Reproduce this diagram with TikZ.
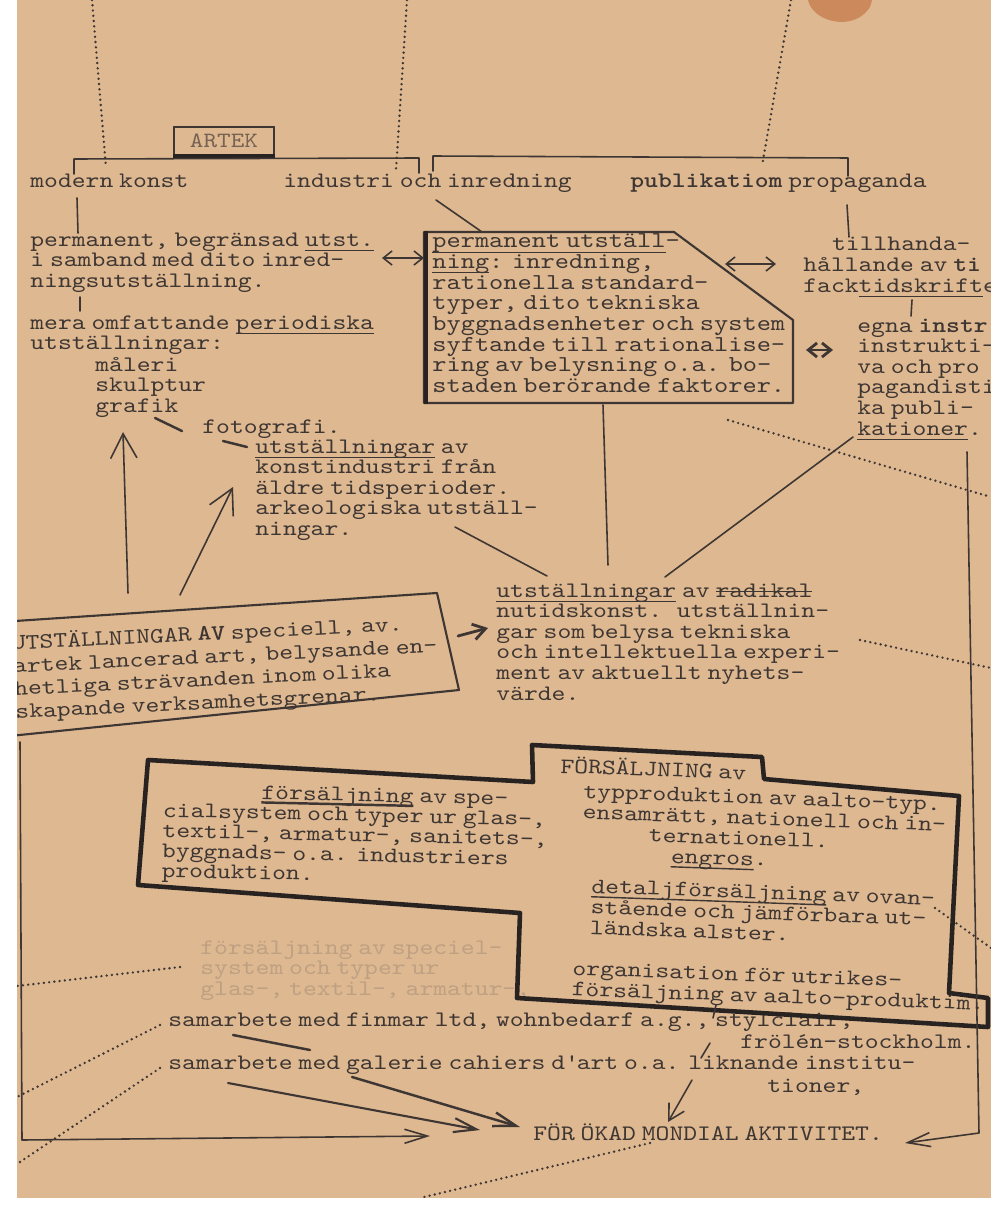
\documentclass[tikz,border=0pt]{standalone}
\usepackage{fontspec}
\setmonofont[FakeStretch=1.19, BoldFont=lmmonolt10-bold.otf]{lmmono10-regular.otf}
\usetikzlibrary{arrows.meta}
\definecolor{paper}{RGB}{222,184,145}
\definecolor{stain}{RGB}{204,138,92}
\definecolor{ink}{RGB}{62,54,50}
\definecolor{heavyink}{RGB}{40,35,33}
\definecolor{faint}{RGB}{190,160,130}
\setlength{\lineskiplimit}{-100pt}
\def\twsize{12.6}
\def\twlead{11.75}
\newcommand\tw{\fontsize{\twsize}{\twlead}\selectfont}
\newcommand\ul[2][0.5pt]{\leavevmode\setbox0\hbox{#2}\rlap{\rule[-0.2em]{\wd0}{#1}}\box0\relax}
\newcommand\strike[1]{\leavevmode\setbox0\hbox{#1}\rlap{\rule[0.22em]{\wd0}{0.8pt}}\box0\relax}
\tikzset{
  typed/.style={anchor=base west, inner sep=0pt, text width=16cm, align=left,
    text=ink, font=\ttfamily, execute at begin node=\tw},
  tsize/.code={\def\twsize{#1}},
  tlead/.code={\def\twlead{#1}},
  pen/.style={draw=ink, line width=0.9pt, line cap=round, line join=round},
  heavy/.style={draw=heavyink, line width=2.6pt, line join=round},
  dots/.style={draw=ink, line width=1.5pt, line cap=round, dash pattern=on 0pt off 3pt},
  upbarb/.style={-{Straight Barb[length=14pt,width=15pt]}},
  longbarb/.style={-{Straight Barb[length=13pt,width=8pt]}},
  twobarb/.style={{Straight Barb[length=5pt,width=8pt]}-{Straight Barb[length=5pt,width=8pt]}},
}

\begin{document}
\begin{tikzpicture}[x=0.02cm, y=-0.02cm]
  \useasboundingbox (0,0) rectangle (996,1213);
  \fill[white] (0,0) rectangle (996,1213);
  \fill[paper] (17,0) rectangle (991,1198);
  \fill[stain] (808,0) .. controls (812,20) and (846,30) .. (864,14) .. controls (870,8) .. (872,0) -- cycle;

  % dotted lines of the sheet below
  \foreach \ax/\ay/\bx/\by in {92/0/106/168, 407/0/396/170, 791/0/762/166,
      728/420/991/497, 860/640/991/668, 935/908/991/948,
      180/967/17/986, 160/1025/17/1097, 160/1068/17/1164, 650/1143/420/1198}
    \draw[dots] (\ax,\ay) -- (\bx,\by);

  \node[draw=ink, line width=0.9pt, minimum width=2cm, minimum height=0.56cm, inner sep=0pt,
    text=ink!65!paper, font=\ttfamily\fontsize{12.4}{12}\selectfont] (artek) at (224,141) {ARTEK};
  \node[typed] (modern) at (30,188) {modern konst};
  \node[typed] (industri) at (283,188) {industri och inredning};
  \node[typed] (publik) at (630,188) {\textbf{publikatiom} propaganda};
  \node[typed] (begr) at (30,246) {permanent, begränsad \ul{utst.}\\i samband med dito inred-\\ningsutställning.};
  \node[typed] (mera) at (30,329) {mera omfattande \ul{periodiska}\\utställningar:};
  \node[typed] (maleri) at (95,371) {måleri\\skulptur\\grafik};
  \node[typed] (foto) at (202,433) {fotografi.};
  \node[typed] (konstind) at (255,453) {\ul{utställningar} av\\konstindustri från\\äldre tidsperioder.\\arkeologiska utställ-\\ningar.};
  \node[typed, tsize=12.95] (inred) at (432,248) {\ul{permanent utställ}-\\\ul{ning}: inredning,\\rationella standard-\\typer, dito tekniska\\byggnadsenheter och system\\syftande till rationalise-\\ring av belysning o.a. bo-\\staden berörande faktorer.};
  \node[typed] (tillh) at (803,251) {\hspace*{1.3em}tillhanda-\\hållande av \textbf{ti}\\fack\ul{tidskrift}e};
  \node[typed] (egna) at (857,332) {egna \textbf{instr}\\instrukti-\\va och pro\\pagandisti\\ka publi-\\\ul{kationer}.};
  \node[typed] (radikal) at (496,597) {\ul{utställningar} av \strike{radikal}\\nutidskonst.~ utställnin-\\gar som belysa tekniska\\och intellektuella experi-\\ment av aktuellt nyhets-\\värde.};
  \node[typed, tlead=13, rotate=2.8] (special) at (12,650) {UTSTÄLLNINGAR \textbf{AV} speciell, av.\\artek lancerad art, belysande en-\\hetliga strävanden inom olika\\skapande verksamhetsgrenar.};

  \node[typed, tlead=11.4, rotate=-1.3] (salj) at (163,797) {\hspace*{4.43em}\ul[1.4pt]{försäljning} av spe-\\cialsystem och typer ur glas-,\\textil-, armatur-, sanitets-,\\byggnads- o.a. industriers\\produktion.};
  \node[typed, rotate=-2] (typsalj) at (560,773) {FÖRSÄLJNING av};
  \node[typed, rotate=-2] (typprod) at (583,798) {typproduktion av aalto-typ.\\ensamrätt, nationell och in-\\\hspace*{3.02em}ternationell.\\\hspace*{4.05em}\ul[0.8pt]{engros}.};
  \node[typed, rotate=-2] (detalj) at (591,893) {\ul[0.8pt]{detaljförsäljning} av ovan-\\stående och jämförbara ut-\\ländska alster.};
  \node[typed, rotate=-2] (utrikes) at (572,975) {organisation för utrikes-\\försäljning av aalto-produktim.};
  \node[typed, text=faint] (faded) at (200,954) {försäljning av speciel-\\system och typer ur\\glas-, textil-, armatur-,};

  \node[typed] (finmar) at (168,1026) {samarbete med finmar ltd, wohnbedarf a.g., stylclair,};
  \node[typed] (frolen) at (740,1048) {frölén-stockholm.};
  \node[typed] (galerie) at (168,1069) {samarbete med galerie cahiers d\textquotesingle art o.a. liknande institu-};
  \node[typed] (tioner) at (767,1092) {tioner,};
  \node[typed] (mondial) at (533,1140) {FÖR ÖKAD MONDIAL AKTIVITET.};

  % frames
  \draw[heavy] (artek.south west) -- (artek.south east);
  \draw[pen] (74,174) -- (74,159) -- (419,158) -- (419,173);
  \draw[pen] (433,171) -- (433,156) -- (848,158) -- (848,176);
  \draw[pen, line width=1.2pt] (424,232) -- (674,232) -- (793,320) -- (793,403) -- (424,403) -- cycle;
  \draw[heavy] (426,231) -- (426,404);
  \draw[pen, line width=1.2pt] (0,622) -- (437,593) -- (459,690) -- (0,737);
  \draw[heavy] (148,760) -- (533,782) -- (532,745) -- (762,757) -- (764,779) -- (959,796) -- (949,993)
    -- (988,998) -- (988,1027) -- (517,998) -- (520,913) -- (138,885) -- cycle;

  \foreach \n/\x/\y in {mk1/77/198, mk2/78/233, pb1/80/297, pb2/80/311,
      gf1/155/418, gf2/182/431, ft1/223/441, ft2/247/447,
      up1a/128/593, up1b/123/432, up2a/180/595, up2b/233/487,
      in1/436/200, in2/482/232, da1/382/258, da2/424/258,
      db1/725/264, db2/776/264, dc1/806/350, dc2/833/350,
      pp1/847/205, pp2/849/237, fk1/912/300, fk2/911/316,
      ak1/455/527, ak2/547/576, bx1/603/405, bx2/608/565,
      kt1/853/437, kt2/665/577, sp1/458/636, sp2/488/628,
      rr1/967/452, rr2/979/1133, rr3/905/1143,
      ll1/20/742, ll2/22/1140, ll3/430/1136,
      sa1/233/1035, sa2/310/1050, sb1/228/1083, sb2/480/1130,
      sc1/352/1077, sc2/520/1127,
      at1/716/1005, at2/713/1018, at3/710/1043, at4/701/1058, at5/692/1080, at6/668/1122}
    \coordinate (\n) at (\x,\y);

  \draw[pen] (mk1) -- (mk2);
  \draw[pen] (pb1) -- (pb2);
  \draw[pen, line width=1.4pt] (gf1) -- (gf2);
  \draw[pen, line width=1.4pt] (ft1) -- (ft2);
  \draw[pen, upbarb] (up1a) -- (up1b);
  \draw[pen, upbarb] (up2a) -- (up2b);
  \draw[pen] (in1) -- (in2);
  \draw[pen, twobarb] (da1) -- (da2);
  \draw[pen, twobarb] (db1) -- (db2);
  \draw[pen, twobarb, line width=1.6pt] (dc1) -- (dc2);
  \draw[pen] (pp1) -- (pp2);
  \draw[pen] (fk1) -- (fk2);
  \draw[pen] (ak1) -- (ak2);
  \draw[pen] (bx1) -- (bx2);
  \draw[pen] (kt1) -- (kt2);
  \draw[pen, line width=1.6pt, -{Straight Barb[length=7pt,width=9pt]}] (sp1) -- (sp2);
  \draw[pen, longbarb] (rr1) -- (rr2) -- (rr3);
  \draw[pen, longbarb] (ll1) -- (ll2) -- (ll3);
  \draw[pen, line width=1.4pt] (sa1) -- (sa2);
  \draw[pen, line width=1.2pt, longbarb] (sb1) -- (sb2);
  \draw[pen, line width=1.4pt, longbarb] (sc1) -- (sc2);
  \draw[pen] (at1) -- (at2);
  \draw[pen] (at3) -- (at4);
  \draw[pen, -{Straight Barb[length=9pt,width=10pt]}] (at5) -- (at6);

  % sheet margins
  \fill[white] (0,0) rectangle (17,1213);
  \fill[white] (991,0) rectangle (996,1213);
  \fill[white] (0,1198) rectangle (996,1213);
\end{tikzpicture}
\end{document}
